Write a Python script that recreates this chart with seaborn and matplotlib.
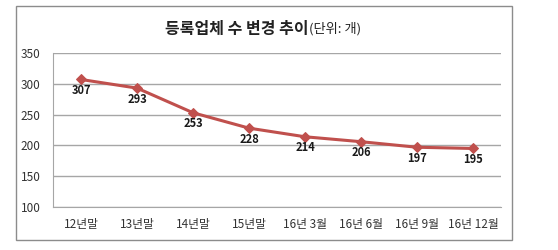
"""
Line chart: number of registered companies over time
"""

import pandas as pd
import seaborn as sns
from matplotlib import pyplot as plt
from matplotlib.patches import Rectangle

periods = ["12년말", "13년말", "14년말", "15년말", "16년 3월", "16년 6월", "16년 9월", "16년 12월"]
counts = [307, 293, 253, 228, 214, 206, 197, 195]
y_ticks = [100, 150, 200, 250, 300, 350]

df = pd.DataFrame({"period": periods, "count": counts})

sns.set_style("white")
plt.rcParams["font.family"] = ["Noto Sans CJK KR", "DejaVu Sans"]

fig = plt.figure(figsize=(5.58, 2.5), dpi=100)
ax = fig.add_axes([0.095, 0.172, 0.803, 0.616])

line_color = "#C0504D"
sns.lineplot(data=df, x="period", y="count", ax=ax, sort=False,
             color=line_color, linewidth=2.2, marker="D", markersize=5,
             markeredgecolor=line_color)

# data labels under the points
for i, v in enumerate(counts):
    ax.annotate(str(v), (i, v), xytext=(0, -11), textcoords="offset pixels",
                ha="center", va="center", fontsize=8, fontweight="bold",
                color="#1a1a1a")

ax.set_ylim(100, 350)
ax.set_xlim(-0.5, len(periods) - 0.5)
ax.set_yticks(y_ticks)
ax.yaxis.grid(True, color="#A6A6A6", linewidth=1)
ax.set_axisbelow(True)
ax.set_xlabel("")
ax.set_ylabel("")
for side in ["top", "right"]:
    ax.spines[side].set_visible(False)
ax.spines["left"].set_color("#A6A6A6")
ax.spines["bottom"].set_color("#A6A6A6")
ax.tick_params(axis="both", length=0, labelsize=8.5, colors="#333333")
ax.tick_params(axis="y", pad=9)
ax.tick_params(axis="x", pad=8)

# title: bold part + unit in normal weight
fig.text(309 / 558, 0.885, "등록업체 수 변경 추이", ha="right", va="center",
         fontsize=11.5, fontweight="bold", color="#222222")
fig.text(309 / 558, 0.885, "(단위: 개)", ha="left", va="center",
         fontsize=9.5, color="#222222")

# outer chart frame
fig.patches.append(Rectangle((16 / 558, 10 / 250), 496 / 558, 234 / 250,
                             transform=fig.transFigure, fill=False,
                             edgecolor="#8C8C8C", linewidth=1))

plt.savefig("out.png", dpi=100)
